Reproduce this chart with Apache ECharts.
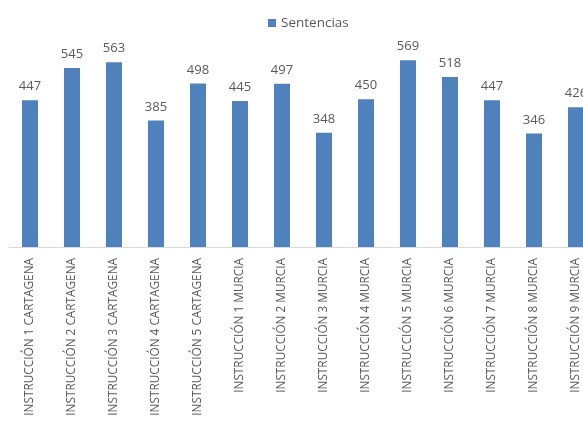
<!DOCTYPE html>
<html>
<head>
<meta charset="utf-8">
<script src="https://cdn.jsdelivr.net/npm/echarts@6/dist/echarts.min.js"></script>
<style>html,body{margin:0;padding:0;background:#fff;overflow:hidden;width:583px;height:422px;}#c{width:597px;height:422px;}</style>
</head>
<body>
<div id="c"></div>
<script>
const categories = [
  "INSTRUCCIÓN 1 CARTAGENA", "INSTRUCCIÓN 2 CARTAGENA", "INSTRUCCIÓN 3 CARTAGENA",
  "INSTRUCCIÓN 4 CARTAGENA", "INSTRUCCIÓN 5 CARTAGENA", "INSTRUCCIÓN 1 MURCIA",
  "INSTRUCCIÓN 2 MURCIA", "INSTRUCCIÓN 3 MURCIA", "INSTRUCCIÓN 4 MURCIA",
  "INSTRUCCIÓN 5 MURCIA", "INSTRUCCIÓN 6 MURCIA", "INSTRUCCIÓN 7 MURCIA",
  "INSTRUCCIÓN 8 MURCIA", "INSTRUCCIÓN 9 MURCIA"
];
const sentencias = [447, 545, 563, 385, 498, 445, 497, 348, 450, 569, 518, 447, 346, 426];
const seriesName = "Sentencias";

const chart = echarts.init(document.getElementById('c'));
chart.setOption({
  animation: false,
  legend: {
    top: 11, left: 263, itemWidth: 8, itemHeight: 8, itemGap: 4,
    icon: 'rect',
    textStyle: { color: '#595959', fontSize: 13.5, fontFamily: 'Open Sans' },
    data: [seriesName]
  },
  grid: { left: 9, right: 0, top: 50, height: 197, containLabel: false },
  xAxis: {
    type: 'category', data: categories,
    axisLine: { lineStyle: { color: '#d9d9d9', width: 1 } },
    axisTick: { show: false },
    axisLabel: { rotate: 90, interval: 0, color: '#595959', fontSize: 11.8, fontFamily: 'Open Sans', margin: 11 }
  },
  yAxis: { type: 'value', min: 0, max: 600, show: false, splitLine: { show: false } },
  series: [{
    name: seriesName, type: 'bar', data: sentencias, barWidth: 16,
    itemStyle: { color: '#4f81bd' },
    label: { show: true, position: 'top', distance: 7, color: '#595959', fontSize: 13, fontFamily: 'Open Sans' }
  }]
});
</script>
</body>
</html>
